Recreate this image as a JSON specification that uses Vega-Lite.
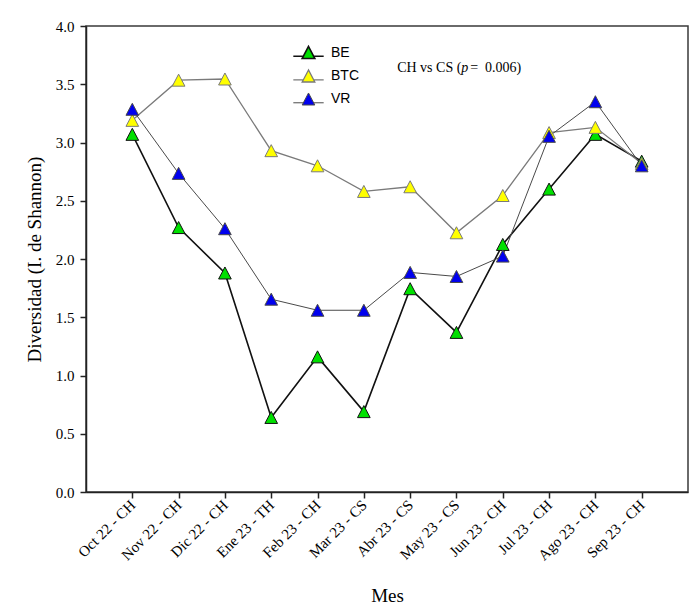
{
  "$schema": "https://vega.github.io/schema/vega-lite/v6.json",
  "width": 602,
  "height": 466,
  "autosize": {"type": "none"},
  "padding": {"left": 86, "top": 26, "right": 11, "bottom": 115},
  "background": "white",
  "config": {
    "view": {"stroke": "#3a3a3a", "strokeWidth": 1.5},
    "font": "Liberation Serif",
    "legend": {
      "symbolType": "M-2.4,0.6L-0.75,0.6M0.75,0.6L2.4,0.6M0,-0.95L-1,0.95L1,0.95Z",
      "symbolSize": 160,
      "symbolOpacity": 1,
      "labelFont": "Liberation Sans",
      "labelFontSize": 14,
      "labelColor": "black",
      "labelOffset": 15,
      "rowPadding": 5
    }
  },
  "datasets": {
    "diversidad": [
      {"mes": "Oct 22 - CH", "serie": "BE", "h": 3.07},
      {"mes": "Nov 22 - CH", "serie": "BE", "h": 2.27},
      {"mes": "Dic 22 - CH", "serie": "BE", "h": 1.88},
      {"mes": "Ene 23 - TH", "serie": "BE", "h": 0.64},
      {"mes": "Feb 23 - CH", "serie": "BE", "h": 1.16},
      {"mes": "Mar 23 - CS", "serie": "BE", "h": 0.69},
      {"mes": "Abr 23 - CS", "serie": "BE", "h": 1.745},
      {"mes": "May 23 - CS", "serie": "BE", "h": 1.37},
      {"mes": "Jun 23 - CH", "serie": "BE", "h": 2.125},
      {"mes": "Jul 23 - CH", "serie": "BE", "h": 2.6},
      {"mes": "Ago 23 - CH", "serie": "BE", "h": 3.07},
      {"mes": "Sep 23 - CH", "serie": "BE", "h": 2.84},
      {"mes": "Oct 22 - CH", "serie": "BTC", "h": 3.19},
      {"mes": "Nov 22 - CH", "serie": "BTC", "h": 3.535},
      {"mes": "Dic 22 - CH", "serie": "BTC", "h": 3.545},
      {"mes": "Ene 23 - TH", "serie": "BTC", "h": 2.93},
      {"mes": "Feb 23 - CH", "serie": "BTC", "h": 2.8},
      {"mes": "Mar 23 - CS", "serie": "BTC", "h": 2.58},
      {"mes": "Abr 23 - CS", "serie": "BTC", "h": 2.62},
      {"mes": "May 23 - CS", "serie": "BTC", "h": 2.225},
      {"mes": "Jun 23 - CH", "serie": "BTC", "h": 2.545},
      {"mes": "Jul 23 - CH", "serie": "BTC", "h": 3.085},
      {"mes": "Ago 23 - CH", "serie": "BTC", "h": 3.13},
      {"mes": "Sep 23 - CH", "serie": "BTC", "h": 2.82},
      {"mes": "Oct 22 - CH", "serie": "VR", "h": 3.285},
      {"mes": "Nov 22 - CH", "serie": "VR", "h": 2.735},
      {"mes": "Dic 22 - CH", "serie": "VR", "h": 2.26},
      {"mes": "Ene 23 - TH", "serie": "VR", "h": 1.655},
      {"mes": "Feb 23 - CH", "serie": "VR", "h": 1.56},
      {"mes": "Mar 23 - CS", "serie": "VR", "h": 1.56},
      {"mes": "Abr 23 - CS", "serie": "VR", "h": 1.885},
      {"mes": "May 23 - CS", "serie": "VR", "h": 1.85},
      {"mes": "Jun 23 - CH", "serie": "VR", "h": 2.025},
      {"mes": "Jul 23 - CH", "serie": "VR", "h": 3.053},
      {"mes": "Ago 23 - CH", "serie": "VR", "h": 3.35},
      {"mes": "Sep 23 - CH", "serie": "VR", "h": 2.8}
    ],
    "nota": [
      {"mes": "Abr 23 - CS", "h": 3.64}
    ]
  },
  "encoding": {
    "x": {
      "field": "mes",
      "type": "nominal",
      "scale": {
        "type": "point",
        "padding": 1,
        "domain": ["Oct 22 - CH", "Nov 22 - CH", "Dic 22 - CH", "Ene 23 - TH", "Feb 23 - CH", "Mar 23 - CS", "Abr 23 - CS", "May 23 - CS", "Jun 23 - CH", "Jul 23 - CH", "Ago 23 - CH", "Sep 23 - CH"]
      },
      "axis": {
        "title": "Mes",
        "labelAngle": -45,
        "labelAlign": "right",
        "labelBaseline": "middle",
        "labelFontSize": 15,
        "labelColor": "black",
        "labelPadding": 4,
        "tickSize": 6,
        "tickColor": "#222222",
        "tickWidth": 1.5,
        "domainColor": "#222222",
        "domainWidth": 1.5,
        "grid": false,
        "titleFontSize": 19,
        "titleFontWeight": "normal",
        "titleColor": "black",
        "titlePadding": 24
      }
    },
    "y": {
      "field": "h",
      "type": "quantitative",
      "scale": {"domain": [0, 4], "nice": false, "zero": true},
      "axis": {
        "title": "Diversidad (I. de Shannon)",
        "values": [0, 0.5, 1, 1.5, 2, 2.5, 3, 3.5, 4],
        "format": ".1f",
        "grid": false,
        "tickSize": 6,
        "tickColor": "#222222",
        "tickWidth": 1.5,
        "domainColor": "#222222",
        "domainWidth": 1.5,
        "labelFontSize": 15,
        "labelColor": "black",
        "labelPadding": 6,
        "titleFontSize": 19,
        "titleFontWeight": "normal",
        "titleColor": "black",
        "titlePadding": 11
      }
    }
  },
  "layer": [
    {
      "data": {"name": "diversidad"},
      "mark": {"type": "line"},
      "encoding": {
        "stroke": {
          "field": "serie",
          "type": "nominal",
          "scale": {"domain": ["BE", "BTC", "VR"], "range": ["#111111", "#7a7a7a", "#4a4a4a"]},
          "legend": {"title": null, "orient": "none", "legendX": 215, "legendY": 19}
        },
        "strokeWidth": {
          "field": "serie",
          "type": "nominal",
          "scale": {"domain": ["BE", "BTC", "VR"], "range": [1.6, 1, 1]},
          "legend": {"title": null, "orient": "none", "legendX": 215, "legendY": 19}
        }
      }
    },
    {
      "data": {"name": "diversidad"},
      "mark": {
        "type": "point",
        "filled": true,
        "opacity": 1,
        "shape": "M0,-0.95L-1,0.95L1,0.95Z",
        "size": 160,
        "strokeWidth": 1
      },
      "encoding": {
        "color": {
          "field": "serie",
          "type": "nominal",
          "scale": {"domain": ["BE", "BTC", "VR"], "range": ["#00e000", "#ffff00", "#0000ee"]},
          "legend": {"title": null, "orient": "none", "legendX": 215, "legendY": 19}
        },
        "stroke": {
          "field": "serie",
          "type": "nominal",
          "legend": {"title": null, "orient": "none", "legendX": 215, "legendY": 19}
        }
      }
    },
    {
      "data": {"name": "nota"},
      "mark": {"type": "text", "align": "left", "baseline": "middle", "fontSize": 14, "dx": -13, "color": "black"},
      "encoding": {
        "text": {"value": "CH vs CS ("}
      }
    },
    {
      "data": {"name": "nota"},
      "mark": {"type": "text", "align": "left", "baseline": "middle", "fontSize": 14, "fontStyle": "italic", "dx": 51, "color": "black"},
      "encoding": {
        "text": {"value": "p"}
      }
    },
    {
      "data": {"name": "nota"},
      "mark": {"type": "text", "align": "left", "baseline": "middle", "fontSize": 14, "dx": 60, "color": "black"},
      "encoding": {
        "text": {"value": "=\u00a0\u00a00.006)"}
      }
    }
  ]
}
